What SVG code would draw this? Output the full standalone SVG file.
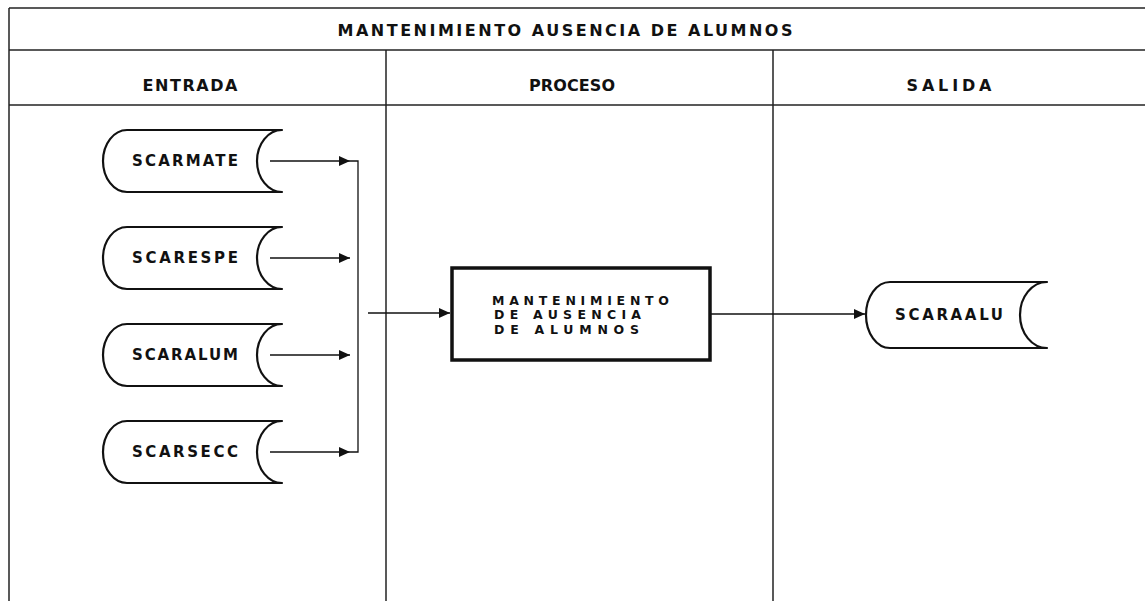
<svg xmlns="http://www.w3.org/2000/svg" width="1145" height="601" viewBox="0 0 1145 601">
<style>
.grid{stroke:#222;stroke-width:1.5;fill:none}
.store{fill:#fff;stroke:#111;stroke-width:2.2;stroke-linejoin:round}
.proc{fill:#fff;stroke:#111;stroke-width:3.5}
.conn{stroke:#111;stroke-width:1.3;fill:none}
.t{font-family:"DejaVu Sans","Liberation Sans",sans-serif;font-weight:bold;fill:#111;text-anchor:middle;dominant-baseline:central}
.hd{font-size:16px}
.st{font-size:15px}
.pt{font-family:"DejaVu Sans","Liberation Sans",sans-serif;font-weight:bold;fill:#111;font-size:12.5px;dominant-baseline:central}
</style>
<defs>
<marker id="arr" markerUnits="userSpaceOnUse" markerWidth="12" markerHeight="10" refX="11" refY="5" orient="auto">
<path d="M0,0 L11,5 L0,10 Z" fill="#111"/>
</marker>
</defs>
<rect width="1145" height="601" fill="#fff"/>
<g id="table">
<line class="grid" x1="9" y1="8" x2="1145" y2="8"/>
<line class="grid" x1="9" y1="50" x2="1145" y2="50"/>
<line class="grid" x1="9" y1="105" x2="1145" y2="105"/>
<line class="grid" x1="9" y1="8" x2="9" y2="601"/>
<line class="grid" x1="386" y1="50" x2="386" y2="601"/>
<line class="grid" x1="773" y1="50" x2="773" y2="601"/>
<text class="t hd" x="565" y="30" textLength="455" lengthAdjust="spacing">MANTENIMIENTO AUSENCIA DE ALUMNOS</text>
<text class="t hd" x="190" y="85" textLength="95" lengthAdjust="spacing">ENTRADA</text>
<text class="t hd" x="572" y="85" textLength="86" lengthAdjust="spacing">PROCESO</text>
<text class="t hd" x="949" y="85" textLength="85" lengthAdjust="spacing">SALIDA</text>
</g>
<g id="connectors">
<line class="conn" x1="270" y1="161" x2="350" y2="161" marker-end="url(#arr)"/>
<line class="conn" x1="270" y1="258" x2="350" y2="258" marker-end="url(#arr)"/>
<line class="conn" x1="270" y1="355" x2="350" y2="355" marker-end="url(#arr)"/>
<line class="conn" x1="270" y1="452" x2="350" y2="452" marker-end="url(#arr)"/>
<polyline class="conn" points="350,161 358,161 358,452 350,452"/>
<line class="conn" x1="368" y1="313" x2="450" y2="313" marker-end="url(#arr)"/>
<line class="conn" x1="710" y1="314" x2="865" y2="314" marker-end="url(#arr)"/>
</g>
<g id="scarmate">
<path class="store" d="M127,130 L282,130 A25,31 0 0 0 282,192 L127,192 A24,31 0 0 1 127,130 Z"/>
<text class="t st" x="185" y="161" textLength="106" lengthAdjust="spacing">SCARMATE</text>
</g>
<g id="scarespe">
<path class="store" d="M127,227 L282,227 A25,31 0 0 0 282,289 L127,289 A24,31 0 0 1 127,227 Z"/>
<text class="t st" x="185" y="258" textLength="106" lengthAdjust="spacing">SCARESPE</text>
</g>
<g id="scaralum">
<path class="store" d="M127,324 L282,324 A25,31 0 0 0 282,386 L127,386 A24,31 0 0 1 127,324 Z"/>
<text class="t st" x="185" y="355" textLength="106" lengthAdjust="spacing">SCARALUM</text>
</g>
<g id="scarsecc">
<path class="store" d="M127,421 L282,421 A25,31 0 0 0 282,483 L127,483 A24,31 0 0 1 127,421 Z"/>
<text class="t st" x="185" y="452" textLength="106" lengthAdjust="spacing">SCARSECC</text>
</g>
<g id="proceso">
<rect class="proc" x="452" y="268" width="258" height="92"/>
<text class="pt" x="492" y="300" textLength="177" lengthAdjust="spacing">MANTENIMIENTO</text>
<text class="pt" x="494" y="314.5" textLength="147" lengthAdjust="spacing">DE AUSENCIA</text>
<text class="pt" x="494" y="329" textLength="145" lengthAdjust="spacing">DE ALUMNOS</text>
</g>
<g id="scaraalu">
<path class="store" d="M890,282 L1047,282 A27,33 0 0 0 1047,348 L890,348 A24,33 0 0 1 890,282 Z"/>
<text class="t st" x="949" y="315" textLength="108" lengthAdjust="spacing">SCARAALU</text>
</g>
</svg>
